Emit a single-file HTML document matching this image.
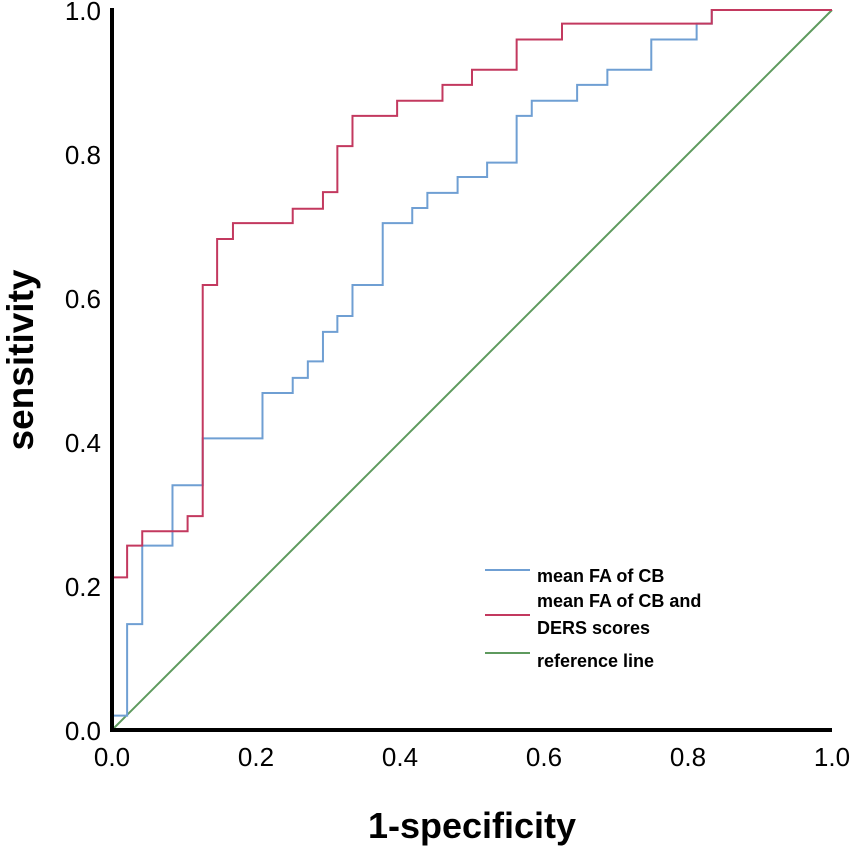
<!DOCTYPE html>
<html><head><meta charset="utf-8"><style>
html,body{margin:0;padding:0;background:#fff;}
svg{display:block;font-family:"Liberation Sans",Arial,sans-serif;}
</style></head><body>
<svg id="chart" width="853" height="847" viewBox="0 0 853 847">
<g id="series"></g>
<g id="axes"></g>
<g id="legend" font-weight="bold">
  <line x1="485" y1="570" x2="530" y2="570" stroke="#6f9fd3" stroke-width="2"/>
  <text x="537" y="582" font-size="18">mean FA of CB</text>
  <line x1="485" y1="615" x2="530" y2="615" stroke="#c3395f" stroke-width="2"/>
  <text x="537" y="607" font-size="18">mean FA of CB and</text>
  <text x="537" y="634" font-size="18">DERS scores</text>
  <line x1="485" y1="653" x2="530" y2="653" stroke="#5e9a5e" stroke-width="2"/>
  <text x="537" y="667" font-size="18">reference line</text>
</g>
<text x="472" y="838" font-size="36" font-weight="bold" text-anchor="middle">1-specificity</text>
<text transform="translate(33,360) rotate(-90)" font-size="37" font-weight="bold" text-anchor="middle">sensitivity</text>
</svg>
<script>
const xTicks = [0, 0.2, 0.4, 0.6, 0.8, 1.0];
const yTicks = [0, 0.2, 0.4, 0.6, 0.8, 1.0];
const tickLabels = ["0.0", "0.2", "0.4", "0.6", "0.8", "1.0"];
const blueFpr = [0, 0, 0.021, 0.021, 0.042, 0.042, 0.084, 0.084, 0.126, 0.126, 0.209, 0.209, 0.251, 0.251, 0.272, 0.272, 0.293, 0.293, 0.313, 0.313, 0.334, 0.334, 0.376, 0.376, 0.417, 0.417, 0.438, 0.438, 0.48, 0.48, 0.521, 0.521, 0.562, 0.562, 0.583, 0.583, 0.646, 0.646, 0.688, 0.688, 0.749, 0.749, 0.812, 0.812, 0.833, 0.833, 1.0];
const blueTpr = [0, 0.02, 0.02, 0.147, 0.147, 0.256, 0.256, 0.340, 0.340, 0.405, 0.405, 0.468, 0.468, 0.489, 0.489, 0.512, 0.512, 0.553, 0.553, 0.575, 0.575, 0.618, 0.618, 0.704, 0.704, 0.725, 0.725, 0.746, 0.746, 0.768, 0.768, 0.788, 0.788, 0.853, 0.853, 0.874, 0.874, 0.896, 0.896, 0.917, 0.917, 0.959, 0.959, 0.981, 0.981, 1.0, 1.0];
const redFpr = [0, 0, 0.021, 0.021, 0.042, 0.042, 0.105, 0.105, 0.126, 0.126, 0.146, 0.146, 0.168, 0.168, 0.251, 0.251, 0.293, 0.293, 0.313, 0.313, 0.334, 0.334, 0.396, 0.396, 0.459, 0.459, 0.5, 0.5, 0.562, 0.562, 0.625, 0.625, 0.833, 0.833, 1.0];
const redTpr = [0, 0.212, 0.212, 0.256, 0.256, 0.276, 0.276, 0.297, 0.297, 0.618, 0.618, 0.682, 0.682, 0.704, 0.704, 0.724, 0.724, 0.747, 0.747, 0.811, 0.811, 0.853, 0.853, 0.874, 0.874, 0.896, 0.896, 0.917, 0.917, 0.959, 0.959, 0.981, 0.981, 1.0, 1.0];
const refFpr = [0, 1];
const refTpr = [0, 1];

const NS = "http://www.w3.org/2000/svg";
const X0 = 112, X1 = 832, Y0 = 730, Y1 = 10;
function xScale(v){ return X0 + v * (X1 - X0); }
function yScale(v){ return Y0 - v * (Y0 - Y1); }
function pathFrom(xs, ys){
  return xs.map((x,i)=> (i?"L":"M") + xScale(x).toFixed(2) + " " + yScale(ys[i]).toFixed(2)).join(" ");
}
const series = document.getElementById("series");
function addLine(xs, ys, color, name){
  const p = document.createElementNS(NS, "path");
  p.setAttribute("d", pathFrom(xs, ys));
  p.setAttribute("fill", "none");
  p.setAttribute("stroke", color);
  p.setAttribute("stroke-width", "2");
  
  
  series.appendChild(p);
}
addLine(refFpr, refTpr, "#5e9a5e", "reference-line");
addLine(blueFpr, blueTpr, "#6f9fd3", "roc-curve-mean-fa-cb");
addLine(redFpr, redTpr, "#c3395f", "roc-curve-combined");

const axes = document.getElementById("axes");
const yAxis = document.createElementNS(NS, "line");
yAxis.setAttribute("x1", X0); yAxis.setAttribute("x2", X0);
yAxis.setAttribute("y1", 8); yAxis.setAttribute("y2", Y0 + 2);
yAxis.setAttribute("stroke", "#000"); yAxis.setAttribute("stroke-width", "4");


axes.appendChild(yAxis);
const xAxis = document.createElementNS(NS, "line");
xAxis.setAttribute("x1", X0 - 2); xAxis.setAttribute("x2", X1);
xAxis.setAttribute("y1", Y0); xAxis.setAttribute("y2", Y0);
xAxis.setAttribute("stroke", "#000"); xAxis.setAttribute("stroke-width", "4");


axes.appendChild(xAxis);

xTicks.forEach((v,i)=>{
  const t = document.createElementNS(NS, "text");
  t.setAttribute("x", xScale(v)); t.setAttribute("y", 766);
  t.setAttribute("font-size", "26"); t.setAttribute("text-anchor", "middle");
  t.textContent = tickLabels[i];
  
  
  axes.appendChild(t);
});
yTicks.forEach((v,i)=>{
  const t = document.createElementNS(NS, "text");
  t.setAttribute("x", 101); t.setAttribute("y", yScale(v) + 10);
  t.setAttribute("font-size", "26"); t.setAttribute("text-anchor", "end");
  t.textContent = tickLabels[i];
  
  
  axes.appendChild(t);
});
</script>
</body></html>
